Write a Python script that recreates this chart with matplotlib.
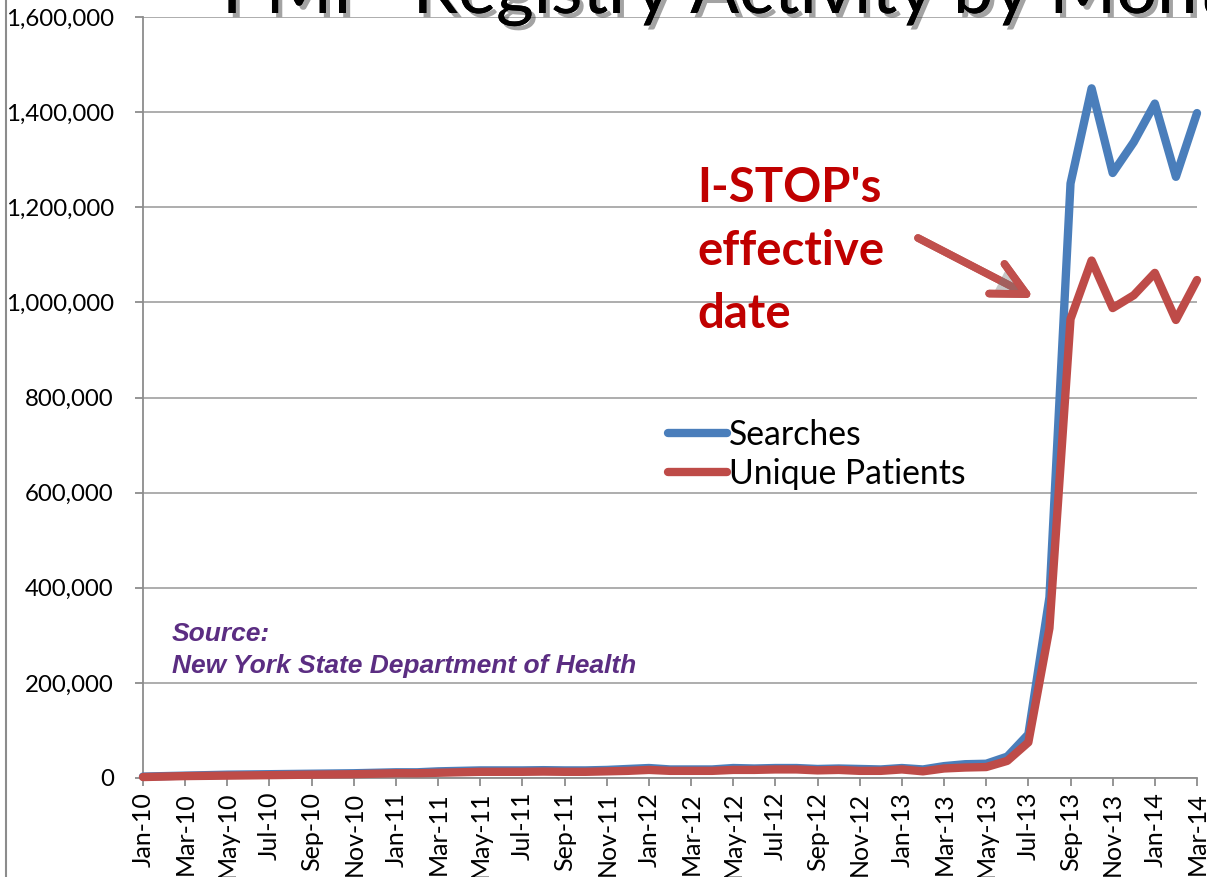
import numpy as np
import matplotlib
matplotlib.use("Agg")
import matplotlib.pyplot as plt
import matplotlib.patheffects as pe
from matplotlib.lines import Line2D

# ---- data ----
searches = [3000, 4000, 5000, 6000, 7000, 7500, 8000, 8500, 9000, 9500, 10000, 11000,
            12000, 12000, 14000, 15000, 16000, 16000, 16000, 16500, 16000, 16000, 17000, 19000,
            21000, 18000, 18000, 18000, 21000, 20000, 21000, 21000, 19000, 20000, 19000, 18000,
            21000, 18000, 25000, 29000, 30000, 45000, 92000, 380000, 1250000, 1450000, 1272000, 1337000,
            1418000, 1264000, 1398000]
patients = [2000, 3000, 4000, 4500, 5000, 5500, 6000, 6500, 7000, 7500, 8000, 9000,
            10000, 10000, 11000, 12000, 13000, 13000, 13000, 13500, 13000, 13000, 14000, 15000,
            17000, 15000, 15000, 15000, 17000, 17000, 18000, 18000, 16000, 17000, 15000, 15000,
            18000, 14000, 20000, 22000, 23000, 36000, 75000, 315000, 965000, 1088000, 988000, 1015000,
            1062000, 963000, 1047000]
tick_labels = ["Jan-10", "Mar-10", "May-10", "Jul-10", "Sep-10", "Nov-10",
               "Jan-11", "Mar-11", "May-11", "Jul-11", "Sep-11", "Nov-11",
               "Jan-12", "Mar-12", "May-12", "Jul-12", "Sep-12", "Nov-12",
               "Jan-13", "Mar-13", "May-13", "Jul-13", "Sep-13", "Nov-13",
               "Jan-14", "Mar-14"]
y_ticks = [0, 200000, 400000, 600000, 800000, 1000000, 1200000, 1400000, 1600000]
series_names = ["Searches", "Unique Patients"]
title_text = "PMP  Registry Activity by Month"
note_lines = ["I-STOP's", "effective", "date"]
source_lines = ["Source:", "New York State Department of Health"]

W, H = 1207, 877
fig = plt.figure(figsize=(W / 100, H / 100), dpi=100)
fig.patch.set_facecolor("white")

left, right, bottom, top = 143, 1197, 778, 17
ax = fig.add_axes([left / W, 1 - bottom / H, (right - left) / W, (bottom - top) / H])

x = np.arange(len(searches))
blue = "#4A7EBB"
red = "#BE4B48"
ax.plot(x, searches, color=blue, lw=6, solid_capstyle="round", solid_joinstyle="round",
        label=series_names[0], zorder=3, clip_on=False)
ax.plot(x, patients, color=red, lw=6, solid_capstyle="round", solid_joinstyle="round",
        label=series_names[1], zorder=4, clip_on=False)

ax.set_xlim(0, len(searches) - 1)
ax.set_ylim(0, 1600000)

grid_c = "#A0A0A0"
ax.set_yticks(y_ticks)
ax.set_yticklabels([f"{v:,}" for v in y_ticks], fontfamily="Lato", fontsize=17.3)
ax.set_xticks(np.arange(0, len(searches), 2))
ax.set_xticklabels(tick_labels, rotation=90, fontfamily="Lato", fontsize=18)
ax.yaxis.grid(True, color=grid_c, lw=1.2)
ax.set_axisbelow(True)
for s in ["top", "right"]:
    ax.spines[s].set_visible(False)
for s in ["left", "bottom"]:
    ax.spines[s].set_color("#8C8C8C")
    ax.spines[s].set_linewidth(1.3)
ax.tick_params(axis="both", color="#8C8C8C", width=1.3, length=6, direction="out", pad=4)
ax.tick_params(axis="y", pad=15)

# legend
leg = ax.legend(loc="upper left", bbox_to_anchor=(668 / W, 1 - 419 / H),
                bbox_transform=fig.transFigure, frameon=False,
                prop={"family": "Lato", "size": 24.3}, handlelength=1.75,
                handletextpad=0.05, labelspacing=0.2, borderpad=0, borderaxespad=0)

# title (cropped at top, as in the reference)
fig.text(222 / W, 1 - 13 / H, title_text, fontfamily="Lato", fontsize=52, color="black",
         ha="left", va="baseline",
         path_effects=[pe.withSimplePatchShadow(offset=(3, -3), shadow_rgbFace="#333333", alpha=0.45),
                       pe.Normal()])

# I-STOP annotation
baselines = [202, 265, 328]
for line, yb in zip(note_lines, baselines):
    fig.text(697 / W, 1 - yb / H, line, fontfamily="Lato", fontweight="bold", fontsize=34,
             color="#C00000", ha="left", va="baseline")

ax.annotate("", xy=(1034, H - 298), xycoords="figure pixels",
            xytext=(918, H - 238), textcoords="figure pixels",
            arrowprops=dict(arrowstyle="->,head_length=2.4,head_width=1.2", mutation_scale=10,
                            color="#C0504D", lw=5.5, shrinkA=0, shrinkB=0,
                            path_effects=[pe.withSimplePatchShadow(offset=(2, -2), shadow_rgbFace="#777777", alpha=0.4),
                                          pe.Normal()]))

# source
src_base = [641, 673]
for line, yb in zip(source_lines, src_base):
    fig.text(172 / W, 1 - yb / H, line, fontfamily="Liberation Sans", fontweight="bold",
             fontstyle="italic", fontsize=19, color="#5B2D82", ha="left", va="baseline")

# left border of chart area
fig.add_artist(Line2D([6 / W, 6 / W], [0, 1], color="#8C8C8C", lw=1.5, transform=fig.transFigure))

fig.savefig("out.png", dpi=100, facecolor="white")
